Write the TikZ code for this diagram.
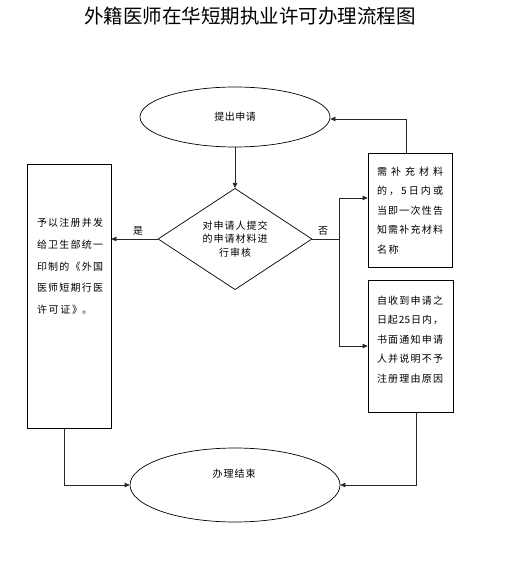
\documentclass[tikz,border=0pt]{standalone}
\usepackage{fontspec}
\setmainfont{Noto Sans CJK SC}
\usetikzlibrary{shapes.geometric,arrows.meta}
\def\sprd#1{\makebox[66pt][s]{\sprdaux#1\relax\unskip}}
\def\sprdaux#1{\ifx\relax#1\else#1\hfill\expandafter\sprdaux\fi}
\tikzset{
  shp/.style={draw=black, line width=0.7pt, inner sep=0pt},
  rbox/.style={shp, rectangle, minimum width=84pt},
  oval/.style={shp, ellipse, font=\fontsize{10}{12}\selectfont},
  txt/.style={inner sep=0pt, align=left},
  conn/.style={draw=black!85, line width=0.7pt},
  arr/.style={conn, -{Triangle[length=5pt,width=4.5pt]}},
  lbl/.style={inner sep=0pt, font=\fontsize{10}{12}\selectfont}
}
\begin{document}
\begin{tikzpicture}[x=1pt,y=-1pt]
\useasboundingbox (0,0) rectangle (506,572);
\node[inner sep=0pt] (title) at (250,16) {\fontsize{19.5}{20}\selectfont 外籍医师在华短期执业许可办理流程图};

\node[oval, minimum width=190pt, minimum height=60pt] (start) at (235,117) {\addfontfeatures{LetterSpace=5}提出申请};
\node[shp, diamond, minimum width=154pt, minimum height=98pt, align=center,
      font=\fontsize{10}{13.5}\selectfont\addfontfeatures{LetterSpace=10}] (dia) at (235,239) {对申请人提交\\的申请材料进\\行审核};

\node[rbox, minimum height=264pt] (lb) at (69,296) {};
\node[txt, font=\fontsize{10}{21.7}\selectfont] (lbt) at (70,266.5)
  {\sprd{予以注册并发}\\\sprd{给卫生部统一}\\\sprd{印制的《外国}\\\sprd{医师短期行医}\\\makebox[66pt][l]{许\,可\,证\,》。}};

\node[rbox, minimum height=114pt] (rt) at (410,210) {};
\node[txt, font=\fontsize{10}{19.5}\selectfont] (rtt) at (410,210.5)
  {\sprd{需补充材料}\\\sprd{的，5日内或}\\\sprd{当即一次性告}\\\sprd{知需补充材料}\\\makebox[66pt][l]{名\,称}};

\node[rbox, minimum width=85pt, minimum height=132pt] (rb) at (410.5,346) {};
\node[txt, font=\fontsize{10}{19.5}\selectfont] (rbt) at (410,339.5)
  {\sprd{自收到申请之}\\\sprd{日起{25}日内，}\\\sprd{书面通知申请}\\\sprd{人并说明不予}\\\sprd{注册理由原因}};

\node[oval, minimum width=210pt, minimum height=74pt] (end) at (235,485) {};
\node[lbl] (endt) at (234,474) {\addfontfeatures{LetterSpace=10}办理结束};

\draw[arr] (start.south) -- (dia.north);
\draw[arr] (dia.west) -- (dia.west -| lb.east);
\node[lbl] (yes) at (138,231) {是};
\coordinate (j) at (339,239);
\draw[conn] (dia.east) -- (j);
\node[lbl] (no) at (323,231) {否};
\draw[arr] (j) |- ([yshift=12pt]rt.west);
\draw[arr] (j) |- (rb.west);
\draw[arr] ([xshift=-4pt]rt.north) |- ([yshift=-2pt]start.east);
\draw[arr] ([xshift=6pt]rb.south) |- (end.east);
\draw[arr] ([xshift=-5pt]lb.south) |- (end.west);
\end{tikzpicture}
\end{document}
